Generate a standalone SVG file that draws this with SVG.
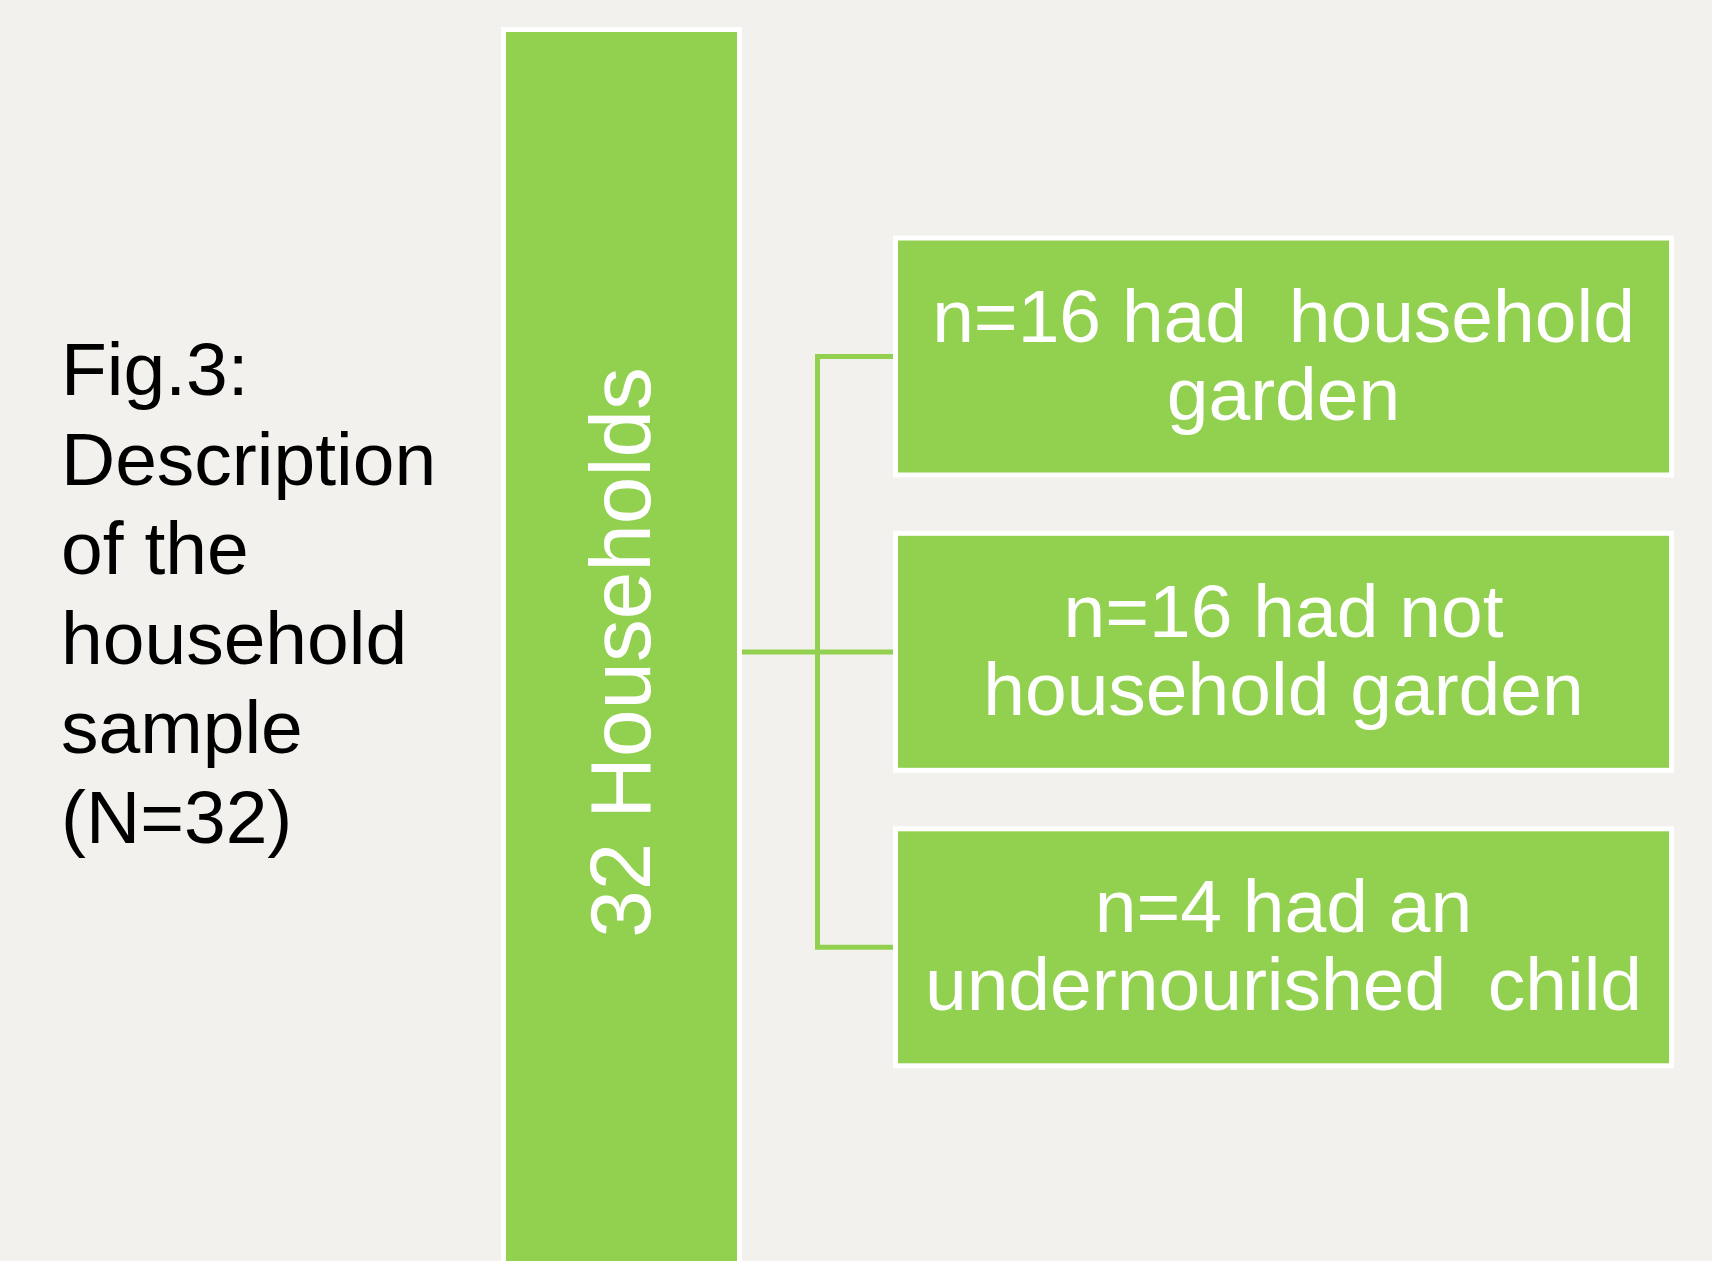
<svg xmlns="http://www.w3.org/2000/svg" width="1712" height="1261" viewBox="0 0 1712 1261">
<style>
.box{fill:#92D050;stroke:#FFFFFF;stroke-width:5}
.wt{font-family:"Liberation Sans",Arial,sans-serif;font-size:75px;fill:#FFFFFF;text-anchor:middle}
.cap{font-family:"Liberation Sans",Arial,sans-serif;font-size:75px;fill:#000000}
.conn{fill:none;stroke:#92D050;stroke-width:5}
</style>
<rect x="0" y="0" width="1712" height="1261" fill="#F2F1ED"/>
<g id="caption">
<text class="cap" x="61" y="395">Fig.3:</text>
<text class="cap" x="61" y="484.5">Description</text>
<text class="cap" x="61" y="574">of the</text>
<text class="cap" x="61" y="663.5">household</text>
<text class="cap" x="61" y="753">sample</text>
<text class="cap" x="61" y="842.5">(N=32)</text>
</g>
<g id="connectors">
<path class="conn" d="M742,652 H893"/>
<path class="conn" d="M893,356.5 H817.5 V947.3 H893"/>
</g>
<g id="root">
<rect class="box" x="503.5" y="29.5" width="236" height="1280"/>
<text class="wt" style="font-size:85.5px" transform="translate(650,652.5) rotate(-90)">32 Households</text>
</g>
<g id="node1">
<rect class="box" x="895.5" y="238" width="776" height="237"/>
<text class="wt" xml:space="preserve" x="1283.5" y="341.5">n=16 had  household</text>
<text class="wt" x="1283.5" y="419.5">garden</text>
</g>
<g id="node2">
<rect class="box" x="895.5" y="533.3" width="776" height="237"/>
<text class="wt" x="1283.5" y="637">n=16 had not</text>
<text class="wt" x="1283.5" y="715">household garden</text>
</g>
<g id="node3">
<rect class="box" x="895.5" y="828.8" width="776" height="237"/>
<text class="wt" x="1283.5" y="932.3">n=4 had an</text>
<text class="wt" xml:space="preserve" x="1283.5" y="1010.3">undernourished  child</text>
</g>
</svg>
